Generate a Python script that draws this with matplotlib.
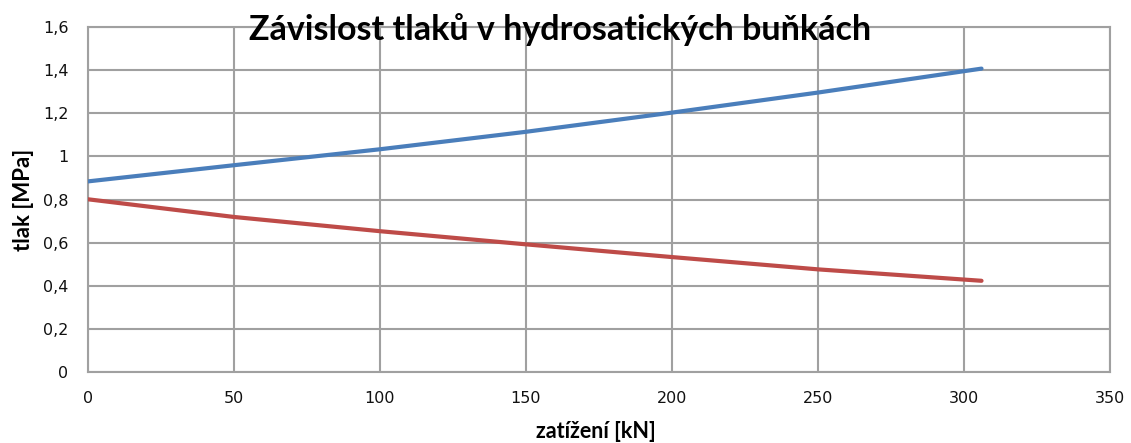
import numpy as np
import matplotlib.pyplot as plt
from matplotlib.ticker import FuncFormatter

# loading in kN and the two cell pressures in MPa
zatizeni = [0, 50, 100, 150, 200, 250, 306]
tlak_horni = [0.884, 0.959, 1.033, 1.114, 1.203, 1.296, 1.407]
tlak_dolni = [0.801, 0.719, 0.653, 0.592, 0.533, 0.476, 0.423]

x_ticks = [0, 50, 100, 150, 200, 250, 300, 350]
y_ticks = [0, 0.2, 0.4, 0.6, 0.8, 1.0, 1.2, 1.4, 1.6]

blue = '#4a7ebb'
red = '#be4b48'
grid_color = '#a0a0a0'

W, H = 1131, 443


def comma_fmt(v, pos):
    s = ('%.1f' % v).rstrip('0').rstrip('.')
    return s.replace('.', ',')


fig = plt.figure(figsize=(W / 100, H / 100), dpi=100, facecolor='white')
ax = fig.add_axes([88 / W, 1 - 372 / H, (1110 - 88) / W, (372 - 27) / H])

ax.plot(zatizeni, tlak_horni, color=blue, lw=3, solid_capstyle='round', zorder=3)
ax.plot(zatizeni, tlak_dolni, color=red, lw=3, solid_capstyle='round', zorder=3)

ax.set_xlim(0, 350)
ax.set_ylim(0, 1.6)
ax.set_xticks(x_ticks)
ax.set_yticks(y_ticks)
ax.yaxis.set_major_formatter(FuncFormatter(comma_fmt))
ax.grid(True, color=grid_color, lw=1.5)
ax.set_axisbelow(True)
for s in ax.spines.values():
    s.set_color(grid_color)
    s.set_linewidth(1.5)
ax.tick_params(length=0, labelsize=11.5, labelcolor='#111111')
ax.tick_params(axis='x', pad=14)
ax.tick_params(axis='y', pad=14)

# axis titles placed in figure pixels
ax.set_xlabel('zatížení [kN]', fontsize=15.5, fontweight='bold', family='Lato')
ax.set_ylabel('tlak [MPa]', fontsize=16, fontweight='bold', family='Lato')
ax.xaxis.set_label_coords(596 / W, 1 - 432 / H, transform=fig.transFigure)
ax.yaxis.set_label_coords(23 / W, 1 - 200 / H, transform=fig.transFigure)
ax.xaxis.label.set_va('center')
ax.yaxis.label.set_va('center')

fig.text(560 / W, 1 - 40 / H, 'Závislost tlaků v hydrosatických buňkách',
         ha='center', va='baseline', fontsize=24.5, fontweight='bold', family='Lato')

fig.savefig('out.png', dpi=100, facecolor='white')
